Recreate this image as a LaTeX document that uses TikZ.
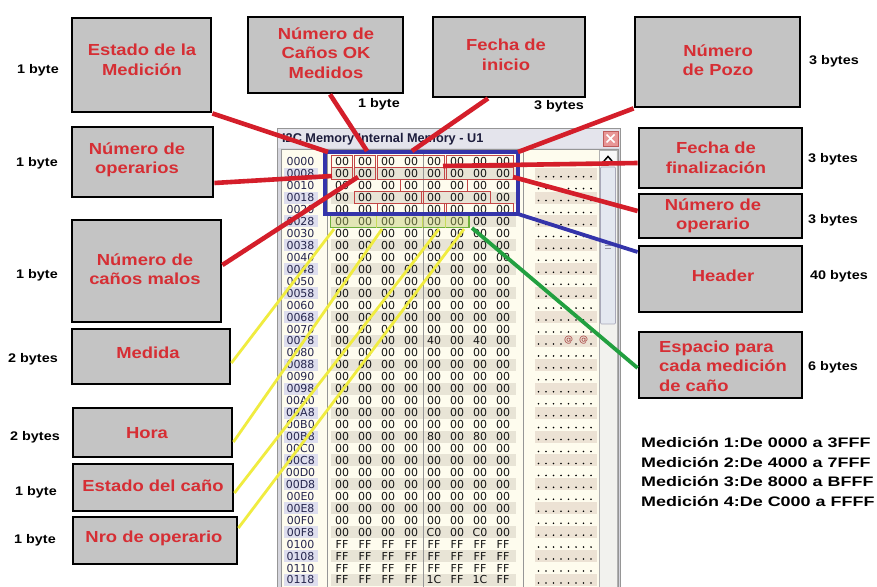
\documentclass[tikz,border=0pt]{standalone}
\usepackage{fontspec}
\setmainfont{Liberation Sans}
\newfontfamily\wideface[FakeStretch=1.15]{Liberation Sans}
\newfontfamily\rangeface[FakeStretch=1.3]{Liberation Sans}
\newfontfamily\hexface{DejaVu Sans}
\usetikzlibrary{calc}

\definecolor{labred}{RGB}{214,46,52}
\definecolor{boxgray}{RGB}{196,196,196}
\definecolor{linkred}{RGB}{212,30,42}
\definecolor{linkblue}{RGB}{52,52,170}
\definecolor{linkgreen}{RGB}{34,160,64}
\definecolor{linkyellow}{RGB}{240,236,64}
\definecolor{cellred}{RGB}{196,70,70}
\definecolor{wincream}{RGB}{254,252,238}
\definecolor{winframe}{RGB}{214,214,222}
\definecolor{titlebar}{RGB}{228,228,236}
\definecolor{titleink}{RGB}{28,28,60}
\definecolor{rowshade}{RGB}{232,228,214}
\definecolor{addrshade}{RGB}{222,222,238}
\definecolor{asciishade}{RGB}{236,226,212}
\definecolor{addrink}{RGB}{38,38,78}
\definecolor{hexink}{RGB}{20,20,20}
\definecolor{sepgray}{RGB}{150,150,150}
\definecolor{fieldgreen}{RGB}{110,176,60}
\definecolor{recordfill}{RGB}{215,235,120}
\definecolor{recorddiv}{RGB}{200,220,90}
\definecolor{closefill}{RGB}{232,150,150}
\definecolor{closedraw}{RGB}{190,90,90}
\definecolor{scrollbg}{RGB}{242,242,238}
\definecolor{scrolledge}{RGB}{176,176,176}
\definecolor{scrollbtn}{RGB}{248,248,248}
\definecolor{thumbfill}{RGB}{228,232,240}
\definecolor{thumbdraw}{RGB}{168,168,184}
\definecolor{gripgray}{RGB}{150,150,165}
\definecolor{atred}{RGB}{160,50,50}

\tikzset{
  field/.style={draw=black, line width=2.8pt, fill=boxgray, inner sep=0pt},
  fieldtext/.style={text=labred, font=\wideface\bfseries\fontsize{16}{19.5}\selectfont, align=center, inner sep=0pt},
  bytes/.style={font=\wideface\bfseries\fontsize{12.5}{15}\selectfont, inner sep=0pt},
  rangetext/.style={font=\rangeface\bfseries\fontsize{13.8}{15}\selectfont, inner sep=0pt, anchor=base west},
  hexcell/.style={font=\hexface\fontsize{11}{12}\selectfont, text=hexink, inner sep=0pt},
  addr/.style={font=\hexface\fontsize{11}{12}\selectfont, text=addrink, inner sep=0pt},
  asciiat/.style={font=\hexface\fontsize{9}{10}\selectfont, text=atred, inner sep=0pt},
  redlink/.style={draw=linkred, line width=4.6pt},
  bluelink/.style={draw=linkblue, line width=3.8pt},
  greenlink/.style={draw=linkgreen, line width=3.8pt},
  yellowlink/.style={draw=linkyellow, line width=2.8pt},
  cellmark/.style={draw=cellred, line width=0.9pt},
}

\begin{document}
\begin{tikzpicture}[x=1pt, y=-1pt]
\useasboundingbox (0,0) rectangle (877,586);
\clip (0,0) rectangle (877,586);
\fill[white] (0,0) rectangle (877,586);

% ---------- memory window ----------
\fill[winframe] (277,128) rectangle (621,592);
\draw[sepgray, line width=0.8pt] (277.4,128.4) rectangle (620.6,592);
\fill[titlebar] (278,129) rectangle (620,148);
\node[anchor=west, inner sep=0pt, text=titleink,
      font=\bfseries\fontsize{12.7}{14}\selectfont] (wintitle) at (282,139)
      {I2C Memory Internal Memory - U1};
% close button
\fill[closefill] (603,131) rectangle (618,146);
\draw[closedraw, line width=0.6pt] (603,131) rectangle (618,146);
\draw[white, line width=1.6pt] (606.5,134.5) -- (614.5,142.5) (614.5,134.5) -- (606.5,142.5);
% content area
\fill[wincream] (281,149) rectangle (618,592);
\draw[sepgray, line width=0.7pt] (281,149) rectangle (618,592);

% shaded rows (addresses ending in 8)
\foreach \r in {1,3,...,35}{
  \pgfmathsetmacro\yy{161.7+11.95*\r}
  \fill[addrshade] (284,\yy-6) rectangle (318,\yy+6);
  \fill[rowshade] (331,\yy-6) rectangle (516,\yy+6);
  \fill[asciishade] (535,\yy-6) rectangle (597,\yy+6);
}

% column separators
\draw[sepgray, line width=1pt] (327.5,150) -- (327.5,592);
\draw[sepgray, line width=0.8pt] (423,150) -- (423,592);
\draw[sepgray, line width=1pt] (523,150) -- (523,592);

% scrollbar
\fill[scrollbg] (599,150) rectangle (617,592);
\draw[scrolledge, line width=0.6pt] (599,150) rectangle (617,592);
\fill[scrollbtn] (600,151) rectangle (616,166);
\draw[black, line width=1.5pt] (604,161) -- (608,156.5) -- (612,161);
\fill[thumbfill] (600.5,167) rectangle (615.5,324);
\draw[thumbdraw, line width=0.6pt, rounded corners=1pt] (600.5,167) rectangle (615.5,324);
\foreach \g in {243,245.5,248}
  \draw[gripgray, line width=0.6pt] (605,\g) -- (611,\g);

% addresses
\foreach \a [count=\r from 0] in {0000,0008,0010,0018,0020,0028,0030,0038,0040,0048,0050,0058,
    0060,0068,0070,0078,0080,0088,0090,0098,00A0,00A8,00B0,00B8,00C0,00C8,00D0,00D8,
    00E0,00E8,00F0,00F8,0100,0108,0110,0118}{
  \pgfmathsetmacro\yy{161.7+11.95*\r}
  \node[addr] (ad-\r) at (300.5,\yy) {\a};
}

% hex bytes
\foreach \r in {0,...,35}{
  \pgfmathsetmacro\yy{161.7+11.95*\r}
  \foreach \c in {0,...,7}{
    \def\val{00}%
    \ifnum\r=15 \ifnum\c=4 \def\val{40}\fi \ifnum\c=6 \def\val{40}\fi \fi
    \ifnum\r=23 \ifnum\c=4 \def\val{80}\fi \ifnum\c=6 \def\val{80}\fi \fi
    \ifnum\r=31 \ifnum\c=4 \def\val{C0}\fi \ifnum\c=6 \def\val{C0}\fi \fi
    \ifnum\r>31 \def\val{FF}\fi
    \ifnum\r=35 \ifnum\c=4 \def\val{1C}\fi \ifnum\c=6 \def\val{1C}\fi \fi
    \node[hexcell] (hx-\r-\c) at ({342+23*\c},\yy) {\val};
  }
}

% ascii column
\foreach \r in {0,...,35}{
  \pgfmathsetmacro\yy{161.7+11.95*\r+3}
  \foreach \k in {0,...,7}{
    \ifnum\r=15 \ifnum\k=4 \else\ifnum\k=6 \else
      \fill[black] ({538.5+7.5*\k},\yy) circle (0.9);
    \fi\fi
    \else
      \fill[black] ({538.5+7.5*\k},\yy) circle (0.9);
    \fi
  }
}
\node[asciiat] (at-a) at (568.5,340.6) {@};
\node[asciiat] (at-b) at (583.5,340.6) {@};

% byte groups of the header
\foreach \r/\a/\b in {0/0/0,0/1/1,0/2/4,0/5/7,1/0/0,1/1/1,1/2/4,1/5/7,2/3/5,3/1/3,3/4/6,4/2/4,4/5/7}
  \draw[cellmark] ({330.5+23*\a+1},{155.7+11.95*\r}) rectangle ({330.5+23*(\b+1)-1},{167.7+11.95*\r});

% one pipe record
\fill[recordfill, fill opacity=0.35] (330.5,215.5) rectangle (469,227.5);
\draw[fieldgreen, line width=1.2pt] (330.5,215.5) rectangle (469,227.5);
\foreach \x in {376.5,422.5,445.5}
  \draw[recorddiv, line width=1pt] (\x,215.5) -- (\x,227.5);

% header block
\draw[linkblue, line width=3.4pt] (325,152) rectangle (518,214);

% ---------- labelled fields ----------
\node[field, minimum width=139, minimum height=94] (estado) at (141.5,65) {};
\node[fieldtext] (estado-t) at (142,60) {Estado de la\\Medición};
\node[field, minimum width=155, minimum height=76] (cok) at (325.5,55) {};
\node[fieldtext] (cok-t) at (326,53) {Número de\\Caños OK\\Medidos};
\node[field, minimum width=152, minimum height=80] (fini) at (509,57) {};
\node[fieldtext] (fini-t) at (506,55) {Fecha de\\inicio};
\node[field, minimum width=165, minimum height=90] (pozo) at (717.5,62) {};
\node[fieldtext] (pozo-t) at (718,60) {Número\\de Pozo};
\node[field, minimum width=141, minimum height=70] (oper) at (142.5,162) {};
\node[fieldtext] (oper-t) at (137,160) {Número de\\operarios};
\node[field, minimum width=149, minimum height=102] (malos) at (146.5,271) {};
\node[fieldtext] (malos-t) at (145,269) {Número de\\caños malos};
\node[field, minimum width=158, minimum height=55] (medida) at (151,356.5) {};
\node[fieldtext] (medida-t) at (148,353) {Medida};
\node[field, minimum width=159, minimum height=49] (hora) at (152.5,432.5) {};
\node[fieldtext] (hora-t) at (147,433) {Hora};
\node[field, minimum width=160, minimum height=47] (estcano) at (153,487.5) {};
\node[fieldtext] (estcano-t) at (153,486) {Estado del caño};
\node[field, minimum width=164, minimum height=47] (nro) at (155,540.5) {};
\node[fieldtext] (nro-t) at (154,538) {Nro de operario};
\node[field, minimum width=163, minimum height=60] (ffin) at (720.5,158) {};
\node[fieldtext] (ffin-t) at (716,158) {Fecha de\\finalización};
\node[field, minimum width=163, minimum height=44] (nop) at (720.5,216) {};
\node[fieldtext] (nop-t) at (713,216) {Número de\\operario};
\node[field, minimum width=163, minimum height=66] (hdr) at (720.5,279) {};
\node[fieldtext] (hdr-t) at (723,276) {Header};
\node[field, minimum width=163, minimum height=66] (esp) at (720.5,365) {};
\node[fieldtext, align=left] (esp-t) at (723,366) {Espacio para\\cada medición\\de caño};

% sizes
\node[bytes] (sz-estado) at (38,70) {1 byte};
\node[bytes] (sz-cok) at (379,104) {1 byte};
\node[bytes] (sz-fini) at (559,106) {3 bytes};
\node[bytes] (sz-pozo) at (834,61) {3 bytes};
\node[bytes] (sz-oper) at (37,163) {1 byte};
\node[bytes] (sz-malos) at (37,275) {1 byte};
\node[bytes] (sz-medida) at (33,359) {2 bytes};
\node[bytes] (sz-hora) at (35,437) {2 bytes};
\node[bytes] (sz-estcano) at (36,492) {1 byte};
\node[bytes] (sz-nro) at (35,540) {1 byte};
\node[bytes] (sz-ffin) at (833,159) {3 bytes};
\node[bytes] (sz-nop) at (833,220) {3 bytes};
\node[bytes] (sz-hdr) at (839,276) {40 bytes};
\node[bytes] (sz-esp) at (833,367) {6 bytes};

% address ranges
\node[rangetext] (rg1) at (641,447.5) {Medición 1:De 0000 a 3FFF};
\node[rangetext] (rg2) at (641,467) {Medición 2:De 4000 a 7FFF};
\node[rangetext] (rg3) at (641,486.5) {Medición 3:De 8000 a BFFF};
\node[rangetext] (rg4) at (641,506) {Medición 4:De C000 a FFFF};

% ---------- connector ends on the memory map ----------
\coordinate (m-estado) at (328,152);
\coordinate (m-cok) at (367,151);
\coordinate (m-fini) at (412,151);
\coordinate (m-pozo) at (518,152);
\coordinate (m-oper) at (332,176);
\coordinate (m-malos) at (358,177);
\coordinate (m-ffin) at (443,166);
\coordinate (m-nop) at (513,177);
\coordinate (m-hdr) at (518,214);
\coordinate (m-esp) at (472,228);
\coordinate (m-med) at (334,229);
\coordinate (m-hora) at (382,229);
\coordinate (m-est) at (439,229);
\coordinate (m-nro) at (464,229);

% ---------- connectors ----------
\draw[yellowlink] ([yshift=-6.5]medida.east) -- (m-med);
\draw[yellowlink] ([yshift=-9.5]hora.east) -- (m-hora);
\draw[yellowlink] ([yshift=-5.5]estcano.east) -- (m-est);
\draw[yellowlink] ([yshift=12.5]nro.east) -- (m-nro);
\draw[greenlink] (m-esp) -- ([yshift=-3]esp.west);
\draw[bluelink] (m-hdr) -- ([yshift=27]hdr.west);
\draw[redlink] (estado.south east) -- (m-estado);
\draw[redlink] ([xshift=4.5]cok.south) -- (m-cok);
\draw[redlink] ([xshift=-21]fini.south) -- (m-fini);
\draw[redlink] (pozo.south west) -- (m-pozo);
\draw[redlink] ([yshift=-21]oper.east) -- (m-oper);
\draw[redlink] ([yshift=6]malos.east) -- (m-malos);
\draw[redlink] ([yshift=-5]ffin.west) -- (m-ffin);
\draw[redlink] ([yshift=5]nop.west) -- (m-nop);
\end{tikzpicture}
\end{document}
